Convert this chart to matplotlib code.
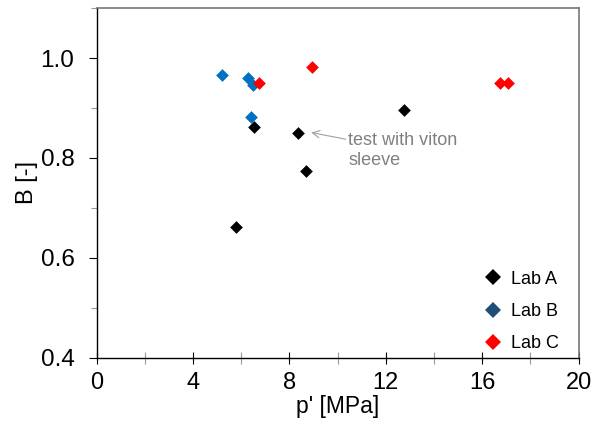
import matplotlib.pyplot as plt
from matplotlib.lines import Line2D
from matplotlib.ticker import MultipleLocator

plt.rcParams['font.family'] = ['Liberation Sans', 'DejaVu Sans']

# Lab A
lab_a_p = [6.55, 8.35, 8.7, 5.8, 12.75]
lab_a_b = [0.862, 0.851, 0.774, 0.662, 0.897]
# Lab B
lab_b_p = [5.2, 6.3, 6.5, 6.42]
lab_b_b = [0.966, 0.960, 0.946, 0.883]
# Lab C
lab_c_p = [6.72, 8.95, 16.75, 17.05]
lab_c_b = [0.950, 0.983, 0.950, 0.950]

labels = ["Lab A", "Lab B", "Lab C"]
point_colors = ["black", "#0070C0", "red"]
legend_colors = ["black", "#1F4E79", "red"]

fig = plt.figure(figsize=(6.04, 4.28), dpi=100)
ax = fig.add_axes([0.160, 0.164, 0.798, 0.817])

for xs, ys, c in zip([lab_a_p, lab_b_p, lab_c_p],
                     [lab_a_b, lab_b_b, lab_c_b], point_colors):
    ax.scatter(xs, ys, marker="D", s=42, color=c, linewidths=0, zorder=3)

ax.set_xlim(0, 20)
ax.set_ylim(0.4, 1.1)
ax.xaxis.set_major_locator(MultipleLocator(4))
ax.xaxis.set_minor_locator(MultipleLocator(2))
ax.set_yticks([0.4, 0.6, 0.8, 1.0])
ax.set_yticklabels(["0.4", "0.6", "0.8", "1.0"])
ax.yaxis.set_minor_locator(MultipleLocator(0.1))
ax.tick_params(axis="x", which="both", direction="inout", length=8, width=0.8,
               labelsize=17, pad=6)
ax.tick_params(axis="x", which="minor", color="#999999")
ax.tick_params(axis="y", which="major", direction="out", length=6, width=0.8,
               labelsize=17.5, pad=10)
ax.tick_params(axis="y", which="minor", direction="out", length=4, width=0.8,
               color="#999999")

for side in ["top", "right"]:
    ax.spines[side].set_color("#777777")
    ax.spines[side].set_linewidth(1.2)
for side in ["left", "bottom"]:
    ax.spines[side].set_color("black")
    ax.spines[side].set_linewidth(1.0)

ax.set_xlabel("p' [MPa]", fontsize=16.5, labelpad=1)
ax.set_ylabel("B [-]", fontsize=17, labelpad=2)

ax.annotate("test with viton\nsleeve", xy=(8.9, 0.851), xytext=(10.45, 0.852),
            fontsize=13, color="#808080", va="top", ha="left",
            arrowprops=dict(arrowstyle="->", color="#a0a0a0", lw=0.8,
                            shrinkA=0, shrinkB=0))

handles = [Line2D([], [], marker="D", linestyle="none", markersize=8,
                  markerfacecolor=c, markeredgewidth=0) for c in legend_colors]
ax.legend(handles, labels, loc="lower right", frameon=False, fontsize=13,
          handlelength=1.2, handletextpad=0.45, labelspacing=0.85,
          borderaxespad=0.0, bbox_to_anchor=(0.975, -0.005))

fig.savefig("out.png", dpi=100)
